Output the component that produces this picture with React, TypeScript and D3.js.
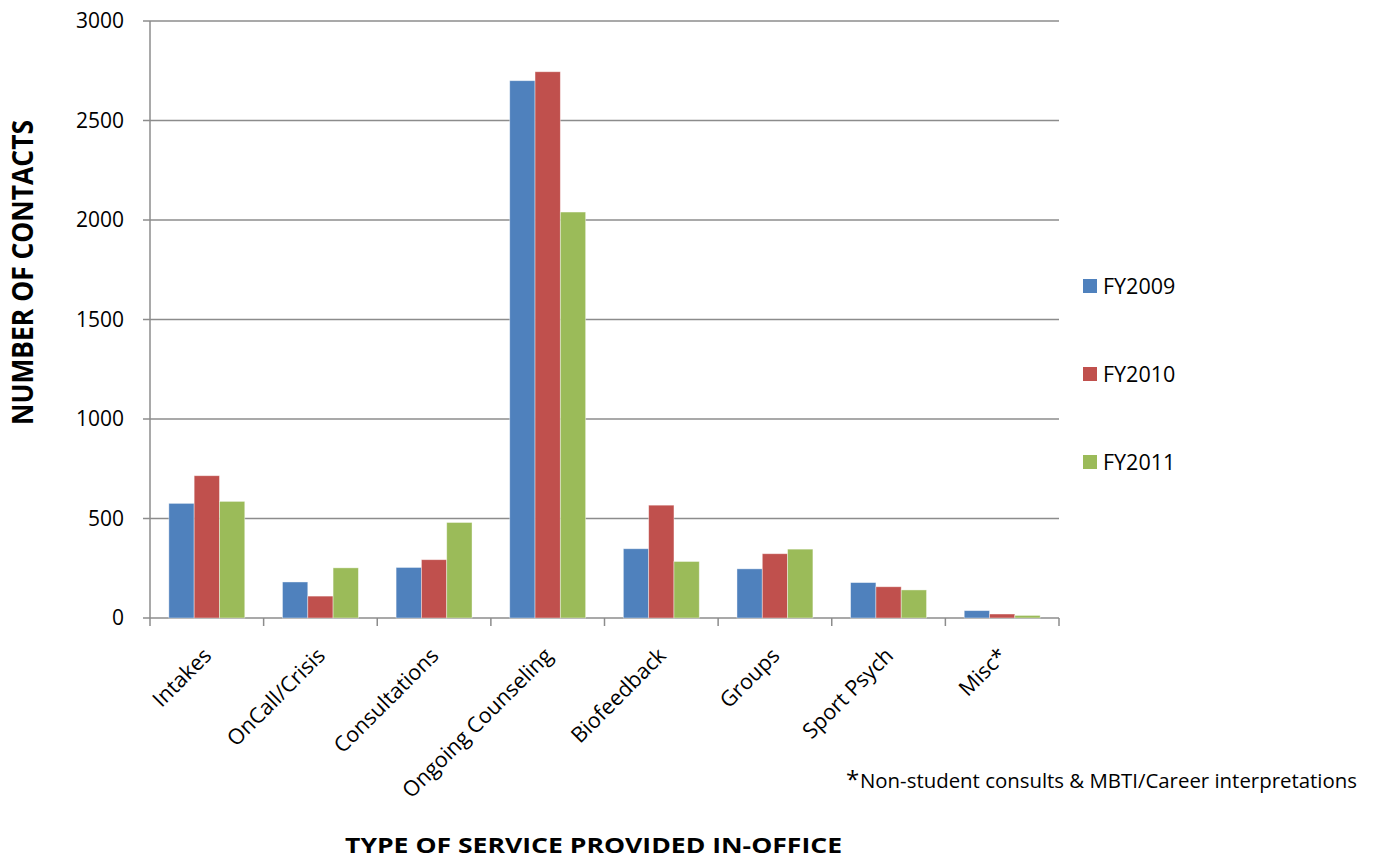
import React from "react";
import * as d3 from "d3";

const categories = ["Intakes", "OnCall/Crisis", "Consultations", "Ongoing Counseling", "Biofeedback", "Groups", "Sport Psych", "Misc*"];
const seriesNames = ["FY2009", "FY2010", "FY2011"];
const fy2009 = [576, 181, 254, 2700, 348, 247, 178, 37];
const fy2010 = [715, 110, 293, 2745, 567, 323, 157, 20];
const fy2011 = [586, 252, 480, 2040, 284, 346, 141, 13];
const colors = ["#4F81BD", "#C0504D", "#9BBB59"];
const yTicks = [0, 500, 1000, 1500, 2000, 2500, 3000];

const W = 1374, H = 864;
const left = 150, right = 1059, top = 21, bottom = 618;
const FONT = "'Open Sans', 'DejaVu Sans', sans-serif";

export default function App() {
  const series = [fy2009, fy2010, fy2011];
  const x = d3.scaleBand<string>().domain(categories).range([left, right]).paddingInner(0).paddingOuter(0);
  const bw = x.bandwidth();
  const inner = d3.scaleBand<string>().domain(seriesNames).range([0, bw]).paddingInner(0).paddingOuter(0.745);
  const y = d3.scaleLinear().domain([0, 3000]).range([bottom, top]);
  const grid = "#8C8C8C";

  return (
    <svg width={W} height={H} style={{ position: "absolute", left: 0, top: 0, background: "#fff" }} fontFamily={FONT}>
      {yTicks.map((t) => (
        <g key={t}>
          <line x1={left - 7} x2={right} y1={y(t)} y2={y(t)} stroke={grid} strokeWidth={1.5} />
          <text x={124} y={y(t)} dy="0.35em" textAnchor="end" fontSize={21} fill="#000">{t}</text>
        </g>
      ))}
      <line x1={left} x2={left} y1={top} y2={bottom} stroke={grid} strokeWidth={1.5} />
      {categories.map((c, i) => (
        <line key={"t" + i} x1={x(c)!} x2={x(c)!} y1={bottom} y2={bottom + 8} stroke={grid} strokeWidth={1.5} />
      ))}
      <line x1={right} x2={right} y1={bottom} y2={bottom + 8} stroke={grid} strokeWidth={1.5} />
      {series.map((vals, si) =>
        vals.map((v, i) => (
          <rect key={si + "-" + i}
            x={x(categories[i])! + inner(seriesNames[si])!}
            y={y(v)}
            width={inner.bandwidth()}
            height={y(0) - y(v)}
            fill={colors[si]}
            stroke="#ffffff" strokeOpacity={0.5} strokeWidth={0.8} />
        ))
      )}
      {categories.map((c) => {
        const cx = x(c)! + bw / 2 + 6;
        const cy = 657;
        return (
          <text key={c} x={cx} y={cy} textAnchor="end" fontSize={21.5} fill="#000"
            transform={`rotate(-45, ${cx}, ${cy})`}>{c}</text>
        );
      })}
      {seriesNames.map((s, i) => (
        <g key={s}>
          <rect x={1083} y={279 + i * 88} width={14} height={14} fill={colors[i]} />
          <text x={1103} y={286 + i * 88} dy="0.36em" fontSize={21.5} fill="#000">{s}</text>
        </g>
      ))}
      <text x={33} y={272.5} transform="rotate(-90, 33, 272.5)" textAnchor="middle"
        fontSize={29} fontWeight="bold" fill="#000" textLength={305} lengthAdjust="spacingAndGlyphs">NUMBER OF CONTACTS</text>
      <text x={593.5} y={853} textAnchor="middle" fontSize={22} fontWeight="bold" fill="#000"
        textLength={497} lengthAdjust="spacingAndGlyphs">TYPE OF SERVICE PROVIDED IN-OFFICE</text>
      <text x={846} y={788} fontSize={24} fill="#000">*</text>
      <text x={860} y={788} fontSize={20.4} fill="#000">Non-student consults &amp; MBTI/Career interpretations</text>
    </svg>
  );
}
